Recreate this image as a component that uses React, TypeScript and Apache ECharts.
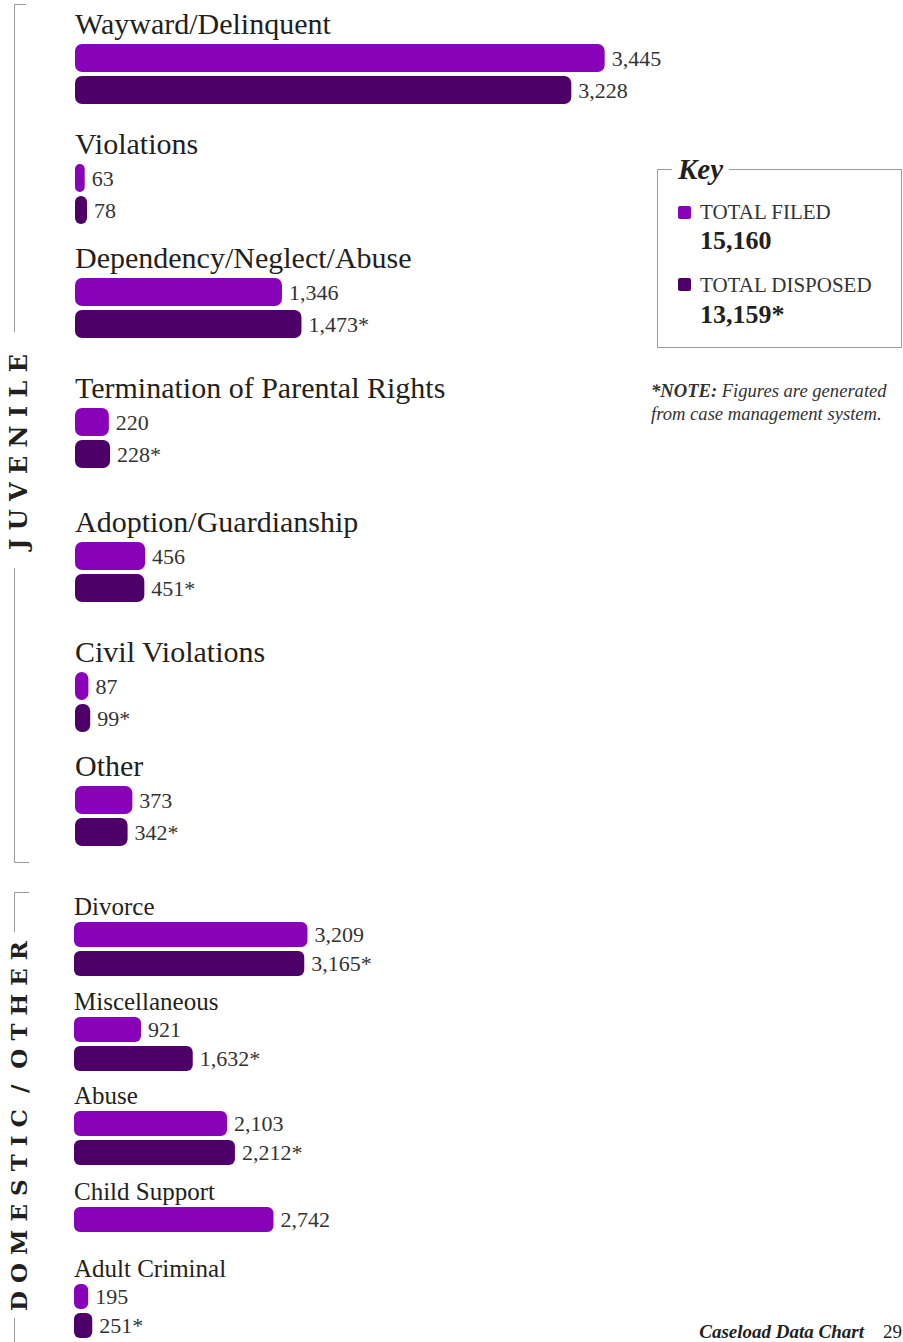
import React, { useEffect, useRef } from "react";
import * as echarts from "echarts";

// ---------------- data ----------------
const juvenileCategories = [
  "Wayward/Delinquent",
  "Violations",
  "Dependency/Neglect/Abuse",
  "Termination of Parental Rights",
  "Adoption/Guardianship",
  "Civil Violations",
  "Other",
];
const juvenileFiled = [3445, 63, 1346, 220, 456, 87, 373];
const juvenileDisposed = [3228, 78, 1473, 228, 451, 99, 342];
const juvenileDisposedNote = [false, false, true, true, true, true, true];

const domesticCategories = ["Divorce", "Miscellaneous", "Abuse", "Child Support", "Adult Criminal"];
const domesticFiled = [3209, 921, 2103, 2742, 195];
const domesticDisposed: (number | null)[] = [3165, 1632, 2212, null, 251];
const domesticDisposedNote = [true, true, true, true, true];

const seriesNames = ["TOTAL FILED", "TOTAL DISPOSED"];
const seriesTotals = ["15,160", "13,159*"];
const sectionLabels = ["J U V E N I L E", "D O M E S T I C  /  O T H E R"];
const keyTitle = "Key";
const noteLines = ["{b|*NOTE:} Figures are generated", "from case management system."];
const footerTitle = "Caseload Data Chart";
const footerPage = "29";
const axisMax = 4000;

// ---------------- layout / style ----------------
const juvenileBarTops = [44, 164, 278, 408, 542, 672, 786];
const domesticBarTops = [922, 1017, 1111, 1207, 1284];
const COLORS = ["#8702B8", "#4C0068"];
const SERIF = "'Liberation Serif', 'Times New Roman', serif";
const WIDE_SERIF = "'DejaVu Serif', serif";

const sections = [
  {
    cats: juvenileCategories,
    filed: juvenileFiled as (number | null)[],
    disposed: juvenileDisposed as (number | null)[],
    note: juvenileDisposedNote,
    tops: juvenileBarTops,
    left: 75,
    width: 615,
    barH: 28,
    gap: 4,
    radius: 7,
    catFont: 30,
    catOffset: 21,
  },
  {
    cats: domesticCategories,
    filed: domesticFiled as (number | null)[],
    disposed: domesticDisposed,
    note: domesticDisposedNote,
    tops: domesticBarTops,
    left: 74,
    width: 291,
    barH: 25,
    gap: 4,
    radius: 6,
    catFont: 25,
    catOffset: 16,
  },
];

function fmt(v: number) {
  return v.toLocaleString("en-US");
}

function buildOption() {
  const grid: any[] = [];
  const xAxis: any[] = [];
  const yAxis: any[] = [];
  const series: any[] = [];
  const graphic: any[] = [];

  sections.forEach((sec) => {
    sec.cats.forEach((cat, i) => {
      const gi = grid.length;
      grid.push({
        left: sec.left,
        top: sec.tops[i],
        width: sec.width,
        height: sec.barH * 2 + sec.gap,
      });
      xAxis.push({ type: "value", gridIndex: gi, min: 0, max: axisMax, show: false });
      yAxis.push({ type: "category", gridIndex: gi, data: [cat], show: false });
      const vals = [sec.filed[i], sec.disposed[i]];
      vals.forEach((v, s) => {
        series.push({
          type: "bar",
          name: seriesNames[s],
          xAxisIndex: gi,
          yAxisIndex: gi,
          barWidth: sec.barH,
          barGap: `${(sec.gap / sec.barH) * 100}%`,
          data: [v],
          itemStyle: { color: COLORS[s], borderRadius: sec.radius },
          label: {
            show: v != null,
            position: "right",
            distance: 7,
            fontFamily: SERIF,
            fontSize: 22,
            color: "#333",
            formatter: (p: any) => fmt(p.value) + (s === 1 && sec.note[i] ? "*" : ""),
          },
          silent: true,
        });
      });
      graphic.push({
        type: "text",
        x: sec.left,
        y: sec.tops[i] - sec.catOffset,
        style: {
          text: cat,
          fontFamily: SERIF,
          fontSize: sec.catFont,
          fill: "#231f20",
          align: "left",
          verticalAlign: "middle",
        },
      });
    });
  });

  const lineStyle = { stroke: "#9a9a9a", lineWidth: 1 };
  const seg = (x1: number, y1: number, x2: number, y2: number) => ({
    type: "line",
    shape: { x1, y1, x2, y2 },
    style: lineStyle,
  });
  // juvenile bracket
  graphic.push(seg(14.5, 4.5, 26, 4.5));
  graphic.push(seg(14.5, 4.5, 14.5, 332));
  graphic.push(seg(14.5, 568, 14.5, 862.5));
  graphic.push(seg(14.5, 862.5, 29, 862.5));
  // domestic bracket
  graphic.push(seg(14.5, 892.5, 29, 892.5));
  graphic.push(seg(14.5, 892.5, 14.5, 932));
  graphic.push(seg(14.5, 1318, 14.5, 1342));

  const secText = (text: string, cy: number, size: number) => ({
    type: "text",
    x: 18,
    y: cy,
    rotation: Math.PI / 2,
    style: {
      text,
      fontFamily: WIDE_SERIF,
      fontWeight: "bold",
      fontSize: size,
      fill: "#231f20",
      align: "center",
      verticalAlign: "middle",
    },
  });
  graphic.push(secText(sectionLabels[0], 452, 24));
  graphic.push(secText(sectionLabels[1], 1126, 23));

  // key box
  graphic.push({
    type: "rect",
    shape: { x: 657.5, y: 169.5, width: 244, height: 178 },
    style: { fill: "none", stroke: "#9a9a9a", lineWidth: 1 },
  });
  graphic.push({
    type: "text",
    x: 672,
    y: 169,
    style: {
      text: keyTitle,
      fontFamily: SERIF,
      fontWeight: "bold",
      fontStyle: "italic",
      fontSize: 29,
      fill: "#231f20",
      backgroundColor: "#fff",
      padding: [0, 6],
      align: "left",
      verticalAlign: "middle",
    },
  });
  const keyRows = [
    { sq: 206, label: 212, total: 240 },
    { sq: 278, label: 285, total: 314 },
  ];
  keyRows.forEach((r, s) => {
    graphic.push({
      type: "rect",
      shape: { x: 678, y: r.sq, width: 13, height: 13, r: 2 },
      style: { fill: COLORS[s] },
    });
    graphic.push({
      type: "text",
      x: 700,
      y: r.label,
      style: {
        text: seriesNames[s],
        fontFamily: SERIF,
        fontSize: 21,
        fill: "#333",
        align: "left",
        verticalAlign: "middle",
      },
    });
    graphic.push({
      type: "text",
      x: 700,
      y: r.total,
      style: {
        text: seriesTotals[s],
        fontFamily: SERIF,
        fontWeight: "bold",
        fontSize: 26,
        fill: "#231f20",
        align: "left",
        verticalAlign: "middle",
      },
    });
  });

  // note
  noteLines.forEach((line, k) => {
    graphic.push({
      type: "text",
      x: 651,
      y: 390 + k * 23,
      style: {
        text: line,
        fontFamily: SERIF,
        fontStyle: "italic",
        fontSize: 18.6,
        fill: "#333",
        align: "left",
        verticalAlign: "middle",
        rich: {
          b: {
            fontFamily: SERIF,
            fontStyle: "italic",
            fontWeight: "bold",
            fontSize: 18.6,
            fill: "#333",
          },
        },
      },
    });
  });

  // footer (kept fully inside the page)
  graphic.push({
    type: "text",
    x: 864,
    y: 1322,
    style: {
      text: footerTitle,
      fontFamily: SERIF,
      fontWeight: "bold",
      fontStyle: "italic",
      fontSize: 19,
      fill: "#231f20",
      align: "right",
      verticalAlign: "top",
    },
  });
  graphic.push({
    type: "text",
    x: 883,
    y: 1322,
    style: {
      text: footerPage,
      fontFamily: SERIF,
      fontSize: 19,
      fill: "#231f20",
      align: "left",
      verticalAlign: "top",
    },
  });

  return {
    animation: false,
    backgroundColor: "#fff",
    grid,
    xAxis,
    yAxis,
    series,
    graphic,
  };
}

export default function App() {
  const ref = useRef<HTMLDivElement>(null);
  useEffect(() => {
    if (!ref.current) return;
    const chart = echarts.init(ref.current, undefined, { renderer: "svg" });
    chart.setOption(buildOption() as any);
    return () => chart.dispose();
  }, []);
  return (
    <div
      ref={ref}
      style={{ position: "absolute", left: 0, top: 0, width: 903, height: 1342 }}
    />
  );
}
